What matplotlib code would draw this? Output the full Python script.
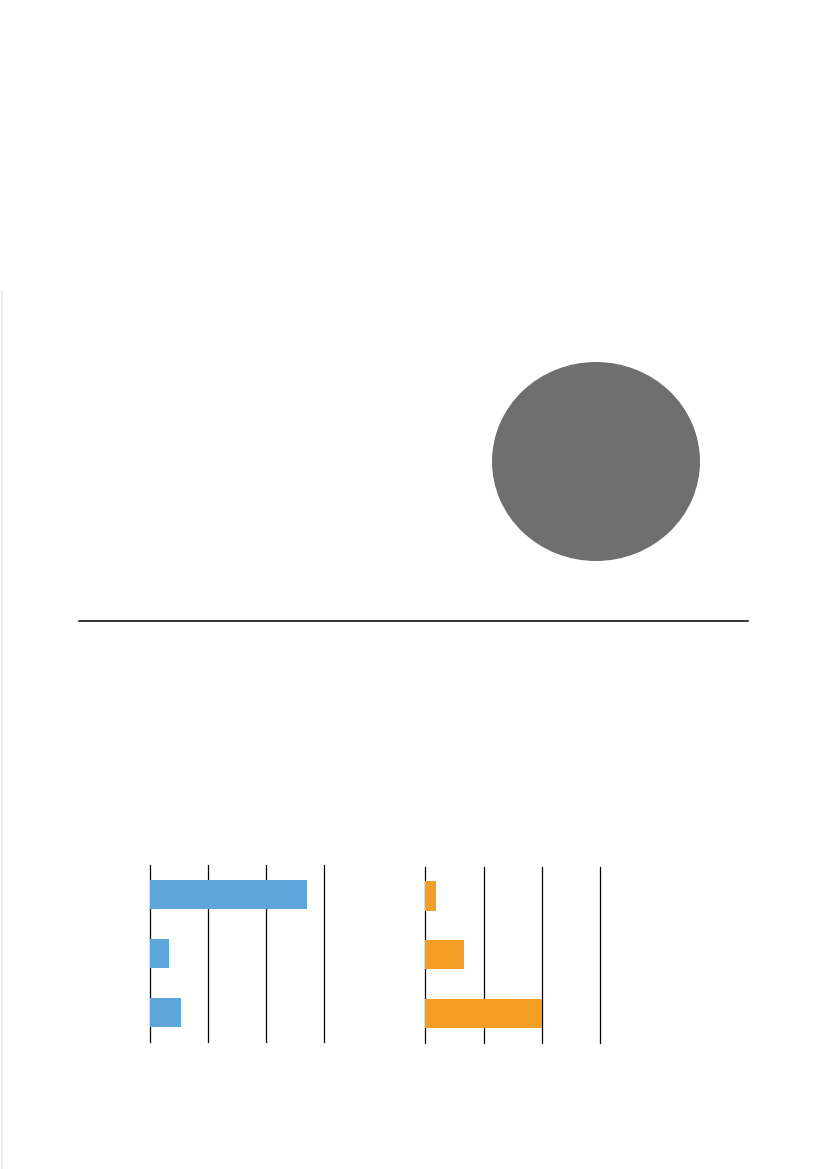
import matplotlib.pyplot as plt
from matplotlib.lines import Line2D

W, H = 827, 1169

# data
cats = ['A', 'B', 'C']
left_vals = [27.0, 3.3, 5.3]
right_vals = [1.8, 6.6, 20.0]
ticks = [0, 10, 20, 30]
pie_vals = [100]

blue = '#5DA5DA'
orange = '#F59E25'
grey = '#6F6F6F'

fig = plt.figure(figsize=(W / 100, H / 100), dpi=100)
fig.patch.set_facecolor('white')


def px(x0, y0, x1, y1):
    # pixel box (top-left origin) -> figure fraction rect
    return [x0 / W, 1 - y1 / H, (x1 - x0) / W, (y1 - y0) / H]


# faint line on the left edge
fig.add_artist(Line2D([1.5 / W, 1.5 / W], [0, 1 - 292 / H], transform=fig.transFigure,
                      color='#ebebef', lw=1.5))

# single slice pie
ax_pie = fig.add_axes(px(492, 362, 700, 561))
ax_pie.pie(pie_vals, colors=[grey], radius=1, startangle=90)
ax_pie.set_aspect('auto')
ax_pie.set_xlim(-1, 1)
ax_pie.set_ylim(-1, 1)
ax_pie.axis('off')

# separator rule
fig.add_artist(Line2D([79 / W, 748 / W], [1 - 621 / H, 1 - 621 / H], transform=fig.transFigure,
                      color='black', lw=1.1))


def bar_panel(rect, vals, color):
    ax = fig.add_axes(rect)
    ax.barh(range(len(cats)), vals, height=0.5, color=color, zorder=2)
    ax.set_xlim(0, 30)
    ax.set_ylim(len(cats) - 0.5, -0.5)
    ax.set_xticks(ticks)
    ax.set_yticks([])
    ax.grid(axis='x', color='black', lw=0.9)
    ax.set_axisbelow(True)
    for ln in ax.get_xgridlines():
        ln.set_clip_on(False)
    ax.tick_params(axis='x', length=0, labelbottom=False)
    for s in ax.spines.values():
        s.set_visible(False)
    ax.patch.set_alpha(0)
    return ax


bar_panel(px(150.3, 865, 324.3, 1042), left_vals, blue)
bar_panel(px(425.3, 866.7, 600.3, 1042.7), right_vals, orange)

fig.savefig('out.png', dpi=100, facecolor='white')
